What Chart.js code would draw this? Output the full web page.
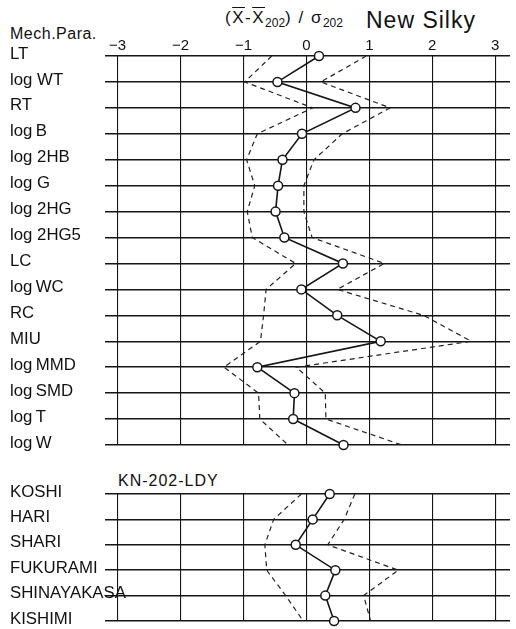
<!DOCTYPE html>
<html>
<head>
<meta charset="utf-8">
<script src="https://cdn.jsdelivr.net/npm/chart.js@4.4.1/dist/chart.umd.min.js"></script>
<style>
  html, body { margin: 0; padding: 0; background: #fff; }
  #wrap { position: relative; width: 516px; height: 629px; overflow: hidden;
          font-family: "Liberation Sans", Arial, sans-serif; color: #111; }
  .txt { position: absolute; white-space: nowrap; line-height: 1; }
  .ov { text-decoration: overline; }
  sub { font-size: 12px; vertical-align: -4px; line-height: 1; letter-spacing: 0; }
  canvas { position: absolute; left: 0; }
</style>
</head>
<body>
<div id="wrap">
  <div class="txt" style="left:10px;top:26px;font-size:16px;letter-spacing:0.5px;">Mech.Para.</div>
  <div class="txt" style="left:225px;top:9px;font-size:17px;letter-spacing:1.5px;">(<span class="ov">X</span>-<span class="ov">X</span><sub>202</sub>) / σ<sub>202</sub></div>
  <div class="txt" style="left:366px;top:9px;font-size:23px;letter-spacing:1px;">New Silky</div>
  <div class="txt" style="left:118px;top:473px;font-size:16px;letter-spacing:1px;">KN-202-LDY</div>
  <canvas id="mech" width="516" height="460" style="top:0;"></canvas>
  <canvas id="hand" width="516" height="145" style="top:484px;"></canvas>
</div>
<script>
// Mechanical parameters (KES) and their normalised values
const mechParams = ['LT', 'log WT', 'RT', 'log\u2009B', 'log 2HB', 'log G', 'log 2HG', 'log 2HG5',
                    'LC', 'log\u2009WC', 'RC', 'MIU', 'log\u2009MMD', 'log\u2009SMD', 'log\u2009T', 'log\u2009W'];
const mechMean  = [0.20, -0.46, 0.78, -0.07, -0.38, -0.45, -0.49, -0.35,
                   0.58, -0.08, 0.49, 1.18, -0.78, -0.19, -0.21, 0.59];
const mechLower = [-0.55, -0.98, 0.10, -0.78, -0.95, -0.82, -0.94, -0.86,
                   -0.17, -0.64, -0.68, -0.73, -1.31, -0.76, -0.74, -0.29];
const mechUpper = [0.95, 0.23, 1.33, 0.57, 0.12, -0.04, -0.04, 0.09,
                   1.24, 0.49, 1.86, 2.62, -0.16, 0.30, 0.31, 1.52];

// Primary hand values
const handParams = ['KOSHI', 'HARI', 'SHARI', 'FUKURAMI', 'SHINAYAKASA', 'KISHIMI'];
const handMean  = [0.37, 0.10, -0.17, 0.46, 0.30, 0.44];
const handLower = [-0.08, -0.52, -0.66, -0.63, -0.33, -0.05];
const handUpper = [0.77, 0.60, 0.34, 1.46, 0.91, 1.02];

// Horizontal axis ticks
const xTicks = [-3, -2, -1, 0, 1, 2, 3];

Chart.defaults.font.family = '"Liberation Sans", Arial, sans-serif';
Chart.defaults.color = '#111';

const INK = '#151515';

function dashed(data) {
  return { data, borderColor: '#222', borderWidth: 1.2, borderDash: [5, 4],
           pointRadius: 0, tension: 0, fill: false };
}
function solid(data) {
  return { data, borderColor: INK, borderWidth: 1.6, tension: 0, fill: false,
           pointRadius: 4.5, pointBackgroundColor: '#fff', pointBorderColor: INK,
           pointBorderWidth: 1.5 };
}

function makeChart(id, labels, lower, mean, upper, opts) {
  return new Chart(document.getElementById(id), {
    type: 'line',
    data: { labels, datasets: [dashed(lower), dashed(upper), solid(mean)] },
    options: {
      indexAxis: 'y',
      responsive: false,
      animation: false,
      events: [],
      layout: { padding: opts.padding },
      plugins: { legend: { display: false }, tooltip: { enabled: false } },
      scales: {
        x: {
          type: 'linear', position: 'top', min: -3.2, max: 3.235,
          afterBuildTicks: s => { s.ticks = xTicks.map(v => ({ value: v })); },
          afterFit: s => { s.height = opts.xHeight; },
          grid: { color: INK, lineWidth: 1.1, drawTicks: false },
          border: { display: false },
          ticks: {
            display: opts.showX, padding: 1,
            font: { size: 15 }, color: '#111',
            callback: v => (v < 0 ? '\u2212' + Math.abs(v) : String(v))
          }
        },
        y: {
          type: 'category', offset: false,
          afterFit: s => { s.width = 95; },
          grid: { color: INK, lineWidth: 1.5, drawTicks: false },
          border: { display: false },
          // mirrored labels are not clipped to the axis box, so long names can run past it
          ticks: { mirror: true, crossAlign: 'near', padding: -95, labelOffset: -2,
                   font: { size: 16.8 }, color: '#111', autoSkip: false }
        }
      }
    }
  });
}

makeChart('mech', mechParams, mechLower, mechMean, mechUpper,
  { padding: { left: 10, top: 30, right: 0, bottom: 15 }, xHeight: 26, showX: true });
makeChart('hand', handParams, handLower, handMean, handUpper,
  { padding: { left: 10, top: 10, right: 0, bottom: 8 }, xHeight: 0, showX: false });
</script>
</body>
</html>
